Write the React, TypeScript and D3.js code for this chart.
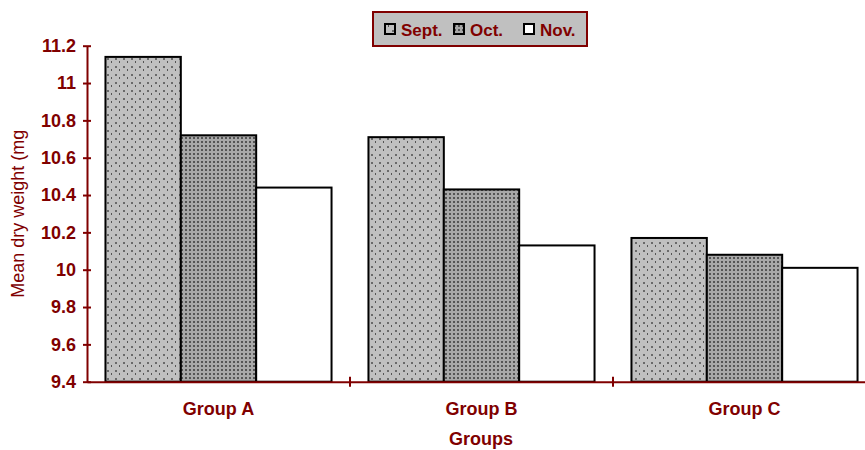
import { useEffect, useRef } from 'react';
import * as d3 from 'd3';

const groups = ['Group A', 'Group B', 'Group C'];
const months = ['Sept.', 'Oct.', 'Nov.'];
const sept = [11.14, 10.71, 10.17];
const oct = [10.72, 10.43, 10.08];
const nov = [10.44, 10.13, 10.01];
const yTicks = [9.4, 9.6, 9.8, 10, 10.2, 10.4, 10.6, 10.8, 11, 11.2];

const RED = '#800000';
const FONT = 'Arial, "Liberation Sans", sans-serif';

const App = () => {
  const svgRef = useRef<SVGSVGElement | null>(null);
  const width = 865;
  const height = 450;

  useEffect(() => {
    if (!svgRef.current) return;
    const svg = d3.select(svgRef.current);
    svg.selectAll('*').remove();

    const left = 87, right = 876, top = 45.7, bottom = 381.7;

    // fill patterns
    const defs = svg.append('defs');
    const p1 = defs.append('pattern').attr('id', 'pSept').attr('patternUnits', 'userSpaceOnUse')
      .attr('width', 8).attr('height', 8);
    p1.append('rect').attr('width', 8).attr('height', 8).attr('fill', '#c0c0c0');
    p1.append('rect').attr('x', 3).attr('y', 2).attr('width', 2).attr('height', 2).attr('fill', '#6a6a6a');
    p1.append('rect').attr('x', 7).attr('y', 5).attr('width', 1).attr('height', 2).attr('fill', '#555');

    const p2 = defs.append('pattern').attr('id', 'pOct').attr('patternUnits', 'userSpaceOnUse')
      .attr('width', 4).attr('height', 4);
    p2.append('rect').attr('width', 4).attr('height', 4).attr('fill', '#a8a8a8');
    p2.append('rect').attr('x', 1).attr('y', 1).attr('width', 2).attr('height', 2).attr('fill', '#555');

    const fills = ['url(#pSept)', 'url(#pOct)', '#ffffff'];
    const series = [sept, oct, nov];

    const x0 = d3.scaleBand().domain(groups).range([left, right]).paddingInner(0).paddingOuter(0);
    const x1 = d3.scaleBand().domain(months).range([0, x0.bandwidth()]).paddingOuter(0.245);
    const y = d3.scaleLinear().domain([9.4, 11.2]).range([bottom, top]);

    const g = svg.append('g');
    groups.forEach((grp, gi) => {
      months.forEach((m, mi) => {
        const v = series[mi][gi];
        g.append('rect')
          .attr('x', (x0(grp) ?? 0) + (x1(m) ?? 0))
          .attr('y', y(v))
          .attr('width', x1.bandwidth())
          .attr('height', y(9.4) - y(v))
          .attr('fill', fills[mi])
          .attr('stroke', '#000')
          .attr('stroke-width', 2);
      });
    });

    // Y axis
    const yAxis = svg.append('g').attr('transform', `translate(${left},0)`)
      .call(d3.axisLeft(y).tickValues(yTicks).tickSizeInner(4).tickSizeOuter(0).tickPadding(7).tickFormat(d => String(d)));
    yAxis.select('.domain').attr('stroke', RED).attr('stroke-width', 2);
    yAxis.selectAll('.tick line').attr('stroke', RED).attr('stroke-width', 2).attr('x2', 4).attr('x1', -4);
    yAxis.selectAll('.tick text').attr('fill', RED).style('font-family', FONT).style('font-size', '18px').style('font-weight', 'bold');

    // X axis
    const xAxis = svg.append('g').attr('transform', `translate(0,${bottom})`)
      .call(d3.axisBottom(x0).tickSize(0).tickPadding(21));
    xAxis.select('.domain').attr('stroke', RED).attr('stroke-width', 2);
    xAxis.selectAll('.tick text').attr('fill', RED).style('font-family', FONT).style('font-size', '18px').style('font-weight', 'bold');
    groups.slice(1).forEach(grp => {
      const xx = x0(grp) ?? 0;
      svg.append('line').attr('x1', xx).attr('x2', xx).attr('y1', bottom - 5).attr('y2', bottom + 5)
        .attr('stroke', RED).attr('stroke-width', 2);
    });

    // Axis titles
    svg.append('text').attr('transform', `translate(24,${(top + bottom) / 2}) rotate(-90)`)
      .attr('text-anchor', 'middle').attr('fill', RED).style('font-family', FONT).style('font-size', '18px')
      .text('Mean dry weight (mg');
    svg.append('text').attr('x', 481).attr('y', 445).attr('text-anchor', 'middle').attr('fill', RED)
      .style('font-family', FONT).style('font-size', '18px').style('font-weight', 'bold').text('Groups');

    // Legend
    const lg = svg.append('g').attr('transform', 'translate(373,12)');
    lg.append('rect').attr('width', 214).attr('height', 34).attr('fill', '#c0c0c0').attr('stroke', RED).attr('stroke-width', 2);
    const lx = [12, 81, 151];
    months.forEach((m, i) => {
      lg.append('rect').attr('x', lx[i]).attr('y', 12).attr('width', 10).attr('height', 10)
        .attr('fill', fills[i]).attr('stroke', '#000').attr('stroke-width', 2);
      lg.append('text').attr('x', lx[i] + 16).attr('y', 24).attr('fill', RED)
        .style('font-family', FONT).style('font-size', '17px').style('font-weight', 'bold').text(m);
    });
  }, []);

  return (
    <svg ref={svgRef} width={width} height={height}
      style={{ position: 'absolute', left: 0, top: 0, background: '#fff' }} />
  );
};

export default App;
